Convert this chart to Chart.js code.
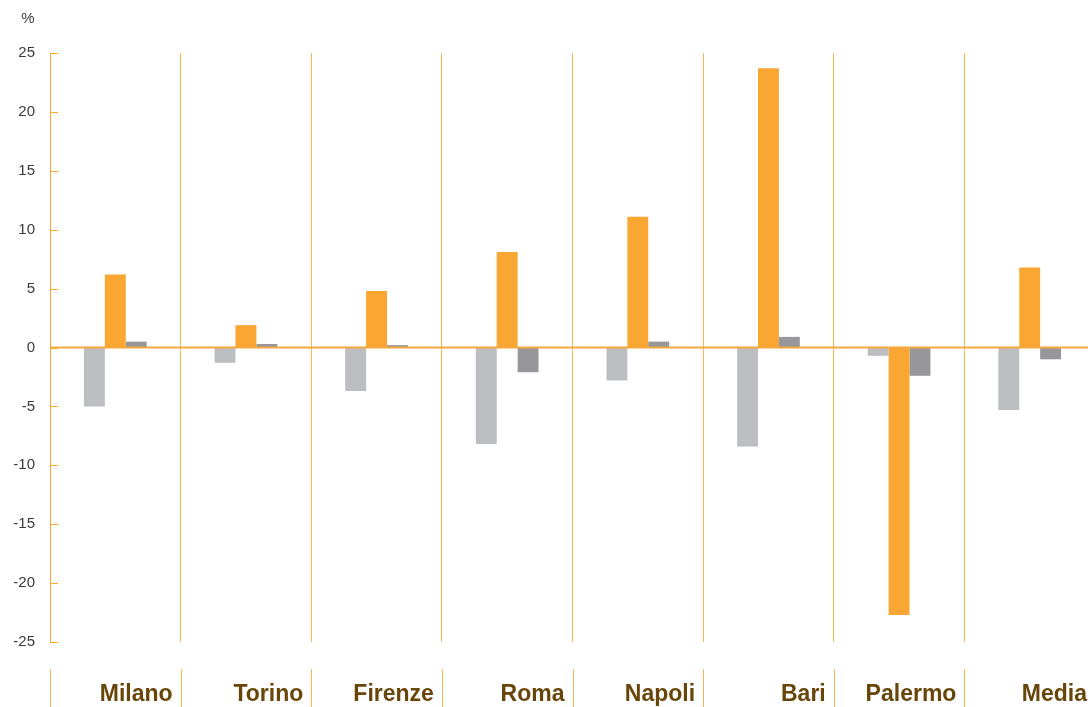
<!DOCTYPE html>
<html lang="it">
<head>
<meta charset="utf-8">
<title>Variazioni per città</title>
<script src="https://cdn.jsdelivr.net/npm/chart.js@4.4.1/dist/chart.umd.min.js"></script>
<style>
  html, body { margin: 0; padding: 0; background: #fff; overflow: hidden; }
  #contenitore { position: relative; width: 1095px; height: 707px; }
</style>
</head>
<body>
<div id="contenitore"><canvas id="barChart"></canvas></div>
<script>
// dati: variazioni percentuali per città
const citta = ['Milano', 'Torino', 'Firenze', 'Roma', 'Napoli', 'Bari', 'Palermo', 'Media'];
const serieChiara = [-5.0, -1.3, -3.7, -8.2, -2.8, -8.4, -0.7, -5.3];
const serieArancio = [6.2, 1.9, 4.8, 8.1, 11.1, 23.7, -22.7, 6.8];
const serieScura = [0.5, 0.3, 0.2, -2.1, 0.5, 0.9, -2.4, -1.0];
const tickY = [-25, -20, -15, -10, -5, 0, 5, 10, 15, 20, 25];

const ARANCIO = '#F9A633';
const SEPARATORE = '#F8B655';

// zero, tacche interne, unità di misura e nomi delle città
const decorazioni = {
    id: 'decorazioni',
    afterDatasetsDraw(chart) {
        const { ctx, chartArea: a, scales: { x, y } } = chart;
        ctx.save();

        const y0 = y.getPixelForValue(0);
        ctx.strokeStyle = '#F6A83E';
        ctx.lineWidth = 2;
        ctx.beginPath();
        ctx.moveTo(a.left, y0);
        ctx.lineTo(a.right, y0);
        ctx.stroke();

        ctx.strokeStyle = ARANCIO;
        ctx.lineWidth = 1;
        y.ticks.forEach(t => {
            const py = Math.round(y.getPixelForValue(t.value)) + 0.5;
            ctx.beginPath();
            ctx.moveTo(a.left, py);
            ctx.lineTo(a.left + 8, py);
            ctx.stroke();
        });

        ctx.fillStyle = '#3a3a3a';
        ctx.font = '15px "Liberation Sans", Arial, sans-serif';
        ctx.textAlign = 'center';
        ctx.textBaseline = 'middle';
        ctx.fillText('%', 28, 19);

        const meta = (x.getPixelForValue(1) - x.getPixelForValue(0)) / 2;
        ctx.font = 'bold 23px "Liberation Sans", Arial, sans-serif';
        ctx.fillStyle = '#684508';
        ctx.textAlign = 'right';
        ctx.textBaseline = 'alphabetic';
        ctx.strokeStyle = SEPARATORE;
        citta.forEach((nome, i) => {
            const cx = x.getPixelForValue(i);
            const sx = Math.round(cx - meta) + 0.5;
            ctx.beginPath();
            ctx.moveTo(sx, 669);
            ctx.lineTo(sx, chart.height);
            ctx.stroke();
            ctx.fillText(nome, cx + meta - 8, 701);
        });

        ctx.restore();
    }
};

const ctx = document.getElementById('barChart').getContext('2d');

const barChart = new Chart(ctx, {
    type: 'bar',
    data: {
        labels: citta,
        datasets: [
            { data: serieChiara, backgroundColor: '#BDBEC2' },
            { data: serieArancio, backgroundColor: ARANCIO },
            { data: serieScura, backgroundColor: '#97979B' }
        ]
    },
    options: {
        responsive: true,
        maintainAspectRatio: false,
        animation: false,
        categoryPercentage: 0.48,
        barPercentage: 1,
        layout: { padding: { top: 53, bottom: 65, left: 0, right: 0 } },
        plugins: {
            legend: { display: false },
            tooltip: { enabled: false }
        },
        scales: {
            x: {
                grid: { color: SEPARATORE, lineWidth: 1, drawTicks: false, offset: true },
                border: { display: false },
                ticks: { display: false }
            },
            y: {
                min: -25,
                max: 25,
                afterBuildTicks: scale => { scale.ticks = tickY.map(v => ({ value: v })); },
                afterFit: scale => { scale.width = 50; },
                grid: { display: false, drawTicks: false },
                border: { display: true, color: ARANCIO, width: 1 },
                ticks: {
                    padding: 15,
                    color: '#3a3a3a',
                    font: { family: '"Liberation Sans", Arial, sans-serif', size: 15 }
                }
            }
        }
    },
    plugins: [decorazioni]
});
</script>
</body>
</html>
